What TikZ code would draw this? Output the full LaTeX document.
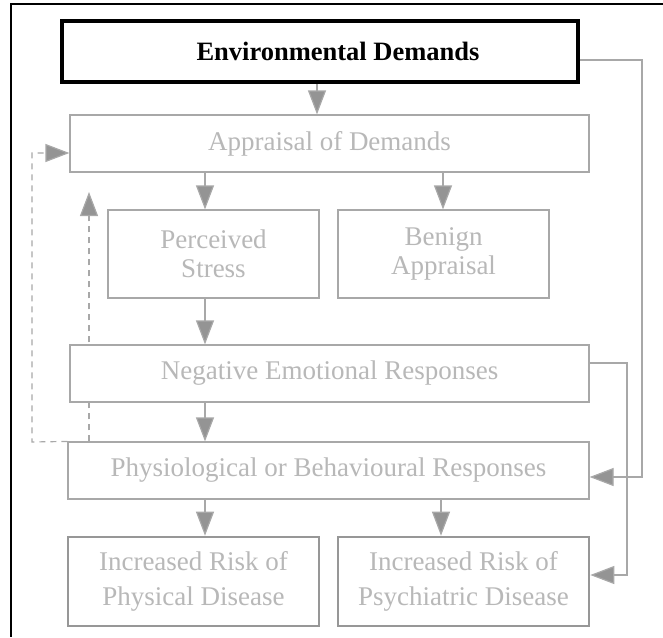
\documentclass[tikz,border=0pt]{standalone}
\usepackage{fontspec}
\setmainfont{Liberation Serif}
\usetikzlibrary{arrows.meta}
\pgfdeclarelayer{background}
\pgfsetlayers{background,main}

\definecolor{boxline}{HTML}{A8A8A8}
\definecolor{boxtext}{HTML}{B8B8B8}
\definecolor{tipfill}{HTML}{949494}

\tikzset{
  box/.style={draw=boxline, line width=1.2pt, fill=white, rectangle,
    inner sep=0pt, align=center, text=boxtext,
    font=\fontsize{27}{29}\selectfont},
  widebox/.style={box, minimum width=519pt, minimum height=57pt},
  smallbox/.style={box, minimum width=211pt, minimum height=88pt},
  riskbox/.style={box, line width=2.6pt, draw=boxline!90!black,
    minimum width=251pt, minimum height=89pt,
    font=\fontsize{27}{35}\selectfont},
  topbox/.style={draw=black, line width=4pt, fill=white, rectangle,
    inner sep=0pt, minimum width=516pt, minimum height=61pt,
    font=\fontsize{26.5}{30}\selectfont\bfseries},
  flow/.style={draw=boxline, line width=1.2pt,
    -{Triangle[width=18pt,length=24pt,fill=tipfill]}},
  feedback/.style={flow, dashed, dash pattern=on 6pt off 5pt},
  frame/.style={draw=black, line width=2.5pt}
}

\begin{document}
\begin{tikzpicture}[x=1pt, y=-1pt]
  \useasboundingbox (0,0) rectangle (663,637);

  % page frame (top and left edges)
  \draw[frame] (663,4) -- (11,4) -- (11,637);

  % boxes
  \node[topbox]   (env)  at (320,51.5)   {\hspace*{36pt}Environmental Demands};
  \node[widebox]  (appr) at (329.5,143.5) {Appraisal of Demands};
  \node[smallbox] (perc) at (213.5,254)  {Perceived\\Stress};
  \node[smallbox] (beni) at (443.5,254)  {Benign\\Appraisal};
  \node[widebox]  (nega) at (329.5,373.5) {Negative Emotional Responses};
  \node[widebox, minimum width=521pt] (phys) at (328.5,470.5)
        {Physiological or Behavioural Responses};
  \node[riskbox]  (rphy) at (193.5,581.5) {Increased Risk of\\Physical Disease};
  \node[riskbox]  (rpsy) at (463.5,581.5) {Increased Risk of\\Psychiatric Disease};

  % turning points of the side connectors
  \coordinate (envR)  at (642,60);
  \coordinate (envD)  at (642,477);
  \coordinate (negR)  at (627,363);
  \coordinate (negD)  at (627,575);
  \coordinate (fbBot) at (32,442);
  \coordinate (fbTop) at (32,153);
  \coordinate (upTip) at (89,192);

  % main downward flow
  \draw[flow] (env.south -| 317,0) -- (appr.north -| 317,0);
  \draw[flow] (appr.south -| 205,0) -- (perc.north -| 205,0);
  \draw[flow] (appr.south -| 443,0) -- (beni.north -| 443,0);
  \draw[flow] (perc.south -| 205,0) -- (nega.north -| 205,0);
  \draw[flow] (nega.south -| 205,0) -- (phys.north -| 205,0);
  \draw[flow] (phys.south -| 205,0) -- (rphy.north -| 205,0);
  \draw[flow] (phys.south -| 441,0) -- (rpsy.north -| 441,0);

  % direct routes on the right
  \draw[flow] (env.east |- envR) -- (envR) -- (envD) -- (phys.east |- envD);
  \draw[flow] (nega.east |- negR) -- (negR) -- (negD) -- (rpsy.east |- negD);

  % feedback loops on the left
  \draw[feedback] (phys.north west) -- (fbBot) -- (fbTop) -- (appr.west |- fbTop);
  \begin{pgfonlayer}{background}
    \draw[feedback] (phys.north -| upTip) -- (upTip);
  \end{pgfonlayer}
\end{tikzpicture}
\end{document}
